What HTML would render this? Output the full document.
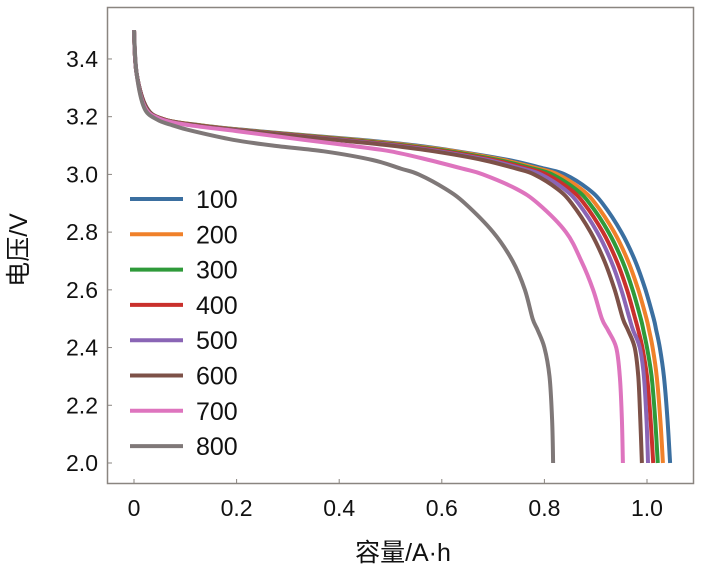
<!DOCTYPE html>
<html><head><meta charset="utf-8"><style>
body{margin:0;background:#fff}
svg text{font-family:"Liberation Sans","Noto Sans CJK SC",sans-serif;fill:#111}
</style></head><body>
<svg id="chart" width="703" height="574" viewBox="0 0 703 574" xmlns="http://www.w3.org/2000/svg">
<rect x="107.5" y="7.5" width="586" height="476" fill="none" stroke="#8a8580" stroke-width="1.5"/>
<g id="ticks"></g><g id="series"></g><g id="legend"></g>
<text transform="translate(27,250) rotate(-90)" text-anchor="middle" font-size="25">电压/V</text>
<text x="403" y="561" text-anchor="middle" font-size="25">容量/A·h</text>
</svg>
<script>
const xTicks=[0,0.2,0.4,0.6,0.8,1.0];
const xTickLabels=["0","0.2","0.4","0.6","0.8","1.0"];
const yTicks=[2.0,2.2,2.4,2.6,2.8,3.0,3.2,3.4];
const yTickLabels=["2.0","2.2","2.4","2.6","2.8","3.0","3.2","3.4"];
const seriesNames=["100","200","300","400","500","600","700","800"];
const seriesColors=["#3b6fa0","#f0812a","#2f9a3a","#c9302c","#8a65b5","#7d5148","#de74be","#7f7878"];
const voltage=[3.5,3.35,3.23,3.19,3.17,3.15,3.12,3.1,3.08,3.05,3.02,3.0,2.95,2.9,2.8,2.7,2.6,2.5,2.46,2.4,2.3,2.15,2.0];
const cap100=[0,0.005,0.025,0.06,0.13,0.24,0.44,0.55,0.63,0.73,0.80,0.84,0.885,0.913,0.95,0.977,0.997,1.013,1.018,1.025,1.033,1.04,1.045];
const cap200=[0,0.005,0.025,0.06,0.13,0.235,0.43,0.54,0.625,0.72,0.788,0.826,0.871,0.899,0.936,0.963,0.983,0.999,1.004,1.011,1.019,1.026,1.031];
const cap300=[0,0.005,0.025,0.06,0.128,0.23,0.42,0.53,0.615,0.71,0.778,0.815,0.86,0.888,0.925,0.952,0.972,0.988,0.993,1.0,1.009,1.016,1.021];
const cap400=[0,0.005,0.025,0.06,0.125,0.225,0.41,0.52,0.605,0.70,0.768,0.804,0.849,0.877,0.914,0.941,0.961,0.977,0.983,0.991,1.0,1.007,1.012];
const cap500=[0,0.005,0.025,0.058,0.12,0.22,0.40,0.51,0.595,0.69,0.757,0.793,0.838,0.866,0.903,0.93,0.95,0.966,0.973,0.986,0.994,0.999,1.002];
const cap600=[0,0.005,0.025,0.058,0.12,0.215,0.39,0.50,0.585,0.68,0.745,0.78,0.825,0.853,0.89,0.917,0.937,0.953,0.963,0.976,0.983,0.987,0.99];
const cap700=[0,0.005,0.022,0.055,0.11,0.2,0.33,0.42,0.5,0.575,0.64,0.68,0.745,0.787,0.842,0.872,0.895,0.912,0.924,0.94,0.947,0.951,0.953];
const cap800=[0,0.005,0.02,0.045,0.075,0.115,0.193,0.27,0.37,0.465,0.52,0.555,0.607,0.645,0.70,0.738,0.762,0.777,0.787,0.8,0.81,0.815,0.817];
const caps=[cap100,cap200,cap300,cap400,cap500,cap600,cap700,cap800];
const NS="http://www.w3.org/2000/svg";
function xs(c){return 134+513*c;}
function ys(v){return 463-(v-2)*288.6;}
function mk(t,a,p){const e=document.createElementNS(NS,t);for(const k in a)e.setAttribute(k,a[k]);p.appendChild(e);return e;}
function smooth(pts){
 let d='M'+pts[0][0].toFixed(1)+' '+pts[0][1].toFixed(1);
 for(let i=0;i<pts.length-1;i++){
  const p0=pts[Math.max(0,i-1)],p1=pts[i],p2=pts[i+1],p3=pts[Math.min(pts.length-1,i+2)];
  const c1=[p1[0]+(p2[0]-p0[0])/6,p1[1]+(p2[1]-p0[1])/6];
  const c2=[p2[0]-(p3[0]-p1[0])/6,p2[1]-(p3[1]-p1[1])/6];
  d+=' C'+c1[0].toFixed(1)+' '+c1[1].toFixed(1)+' '+c2[0].toFixed(1)+' '+c2[1].toFixed(1)+' '+p2[0].toFixed(1)+' '+p2[1].toFixed(1);
 }
 return d;
}
const tk=document.getElementById('ticks');
xTicks.forEach((t,i)=>{
 const l=mk('line',{x1:xs(t),x2:xs(t),y1:483,y2:479,stroke:'#8a8580'},tk);
 
 
 const tx=mk('text',{x:xs(t),y:516,'text-anchor':'middle','font-size':'23'},tk);tx.textContent=xTickLabels[i];
 
 
});
yTicks.forEach((t,i)=>{
 const l=mk('line',{x1:108,x2:112,y1:ys(t),y2:ys(t),stroke:'#8a8580'},tk);
 
 
 const tx=mk('text',{x:98,y:ys(t)+8,'text-anchor':'end','font-size':'23'},tk);tx.textContent=yTickLabels[i];
 
 
});
const sg=document.getElementById('series'),lg=document.getElementById('legend');
caps.forEach((c,si)=>{
 const pts=c.map((x,i)=>[xs(x),ys(voltage[i])]);
 const p=mk('path',{d:smooth(pts),fill:'none',stroke:seriesColors[si],'stroke-width':'4','stroke-linejoin':'round'},sg);
 
 
});
seriesNames.forEach((n,i)=>{
 const y=199+i*35.3;
 const l=mk('line',{x1:130,x2:183,y1:y,y2:y,stroke:seriesColors[i],'stroke-width':'4'},lg);
 
 
 const t=mk('text',{x:196,y:y+9,'font-size':'25'},lg);t.textContent=n;
 
 
});
</script>
</body></html>
